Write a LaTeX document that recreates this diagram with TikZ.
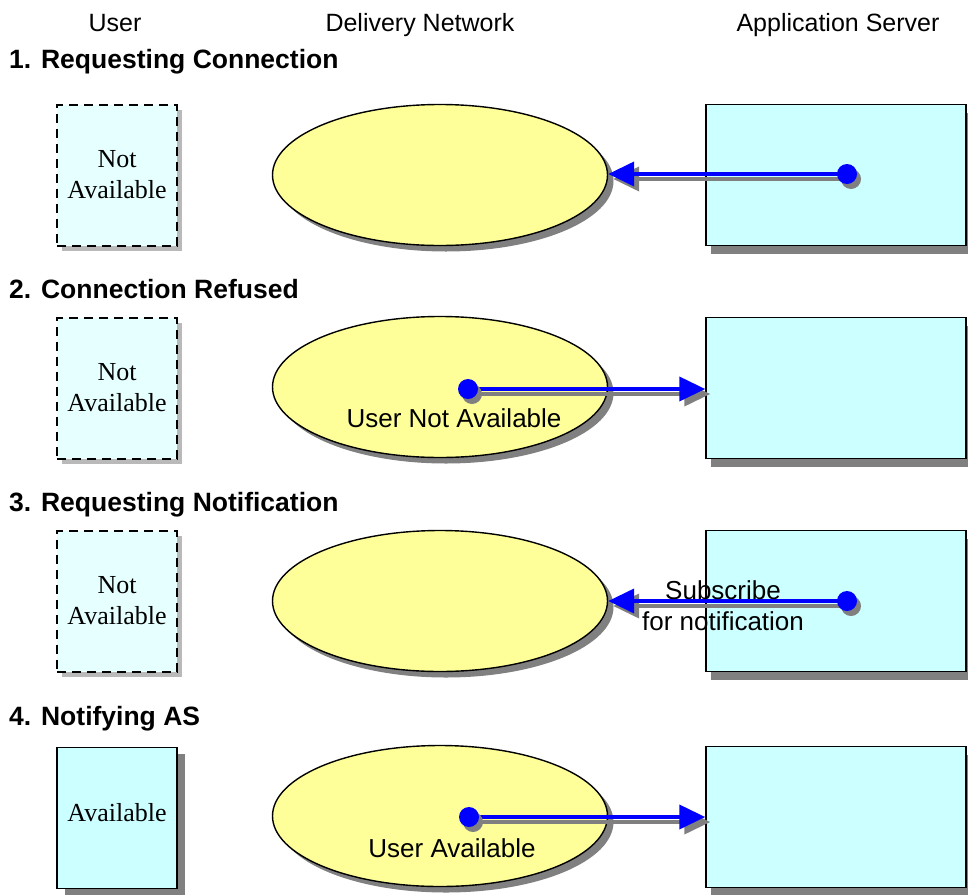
\documentclass[tikz,border=0pt]{standalone}
\usepackage{fontspec}
\setmainfont{Liberation Serif}
\setsansfont{Liberation Sans}
\usetikzlibrary{calc}
\usetikzlibrary{positioning}
\usetikzlibrary{arrows.meta}
\usetikzlibrary{shapes.geometric}
\usetikzlibrary{shadows}
\definecolor{userfill}{RGB}{204,255,255}
\definecolor{awayfill}{RGB}{230,255,255}
\definecolor{netfill}{RGB}{255,255,153}
\definecolor{shade}{RGB}{128,128,128}

\begin{document}
\begin{tikzpicture}[x=1pt, y=-1pt, font=\sffamily\fontsize{26}{31}\selectfont]
	\tikzstyle{colhead}=[inner sep=0pt, font=\sffamily\fontsize{25}{30}\selectfont]
	\tikzstyle{stagetitle}=[inner sep=0pt, font=\sffamily\bfseries\fontsize{26.5}{31}\selectfont]
	\tikzstyle{userbox}=[rectangle, draw=black, line width=1.5pt, fill=userfill, minimum width=120pt, minimum height=141pt, inner sep=0pt, align=center, font=\rmfamily\fontsize{26}{31}\selectfont, drop shadow={shadow xshift=8pt, shadow yshift=-6pt, fill=shade, opacity=1}]
	\tikzstyle{awaybox}=[rectangle, draw=black, line width=2pt, dash pattern=on 9pt off 6pt, fill=awayfill, minimum width=120pt, minimum height=141pt, inner sep=0pt, align=center, font=\rmfamily\fontsize{26}{31}\selectfont, drop shadow={shadow xshift=5pt, shadow yshift=-5pt, fill=shade!55, opacity=1}]
	\tikzstyle{netnode}=[ellipse, draw=black, line width=1.4pt, fill=netfill, minimum width=335pt, minimum height=141pt, inner sep=0pt, drop shadow={shadow xshift=6pt, shadow yshift=-6pt, fill=shade, opacity=1}]
	\tikzstyle{srvbox}=[rectangle, draw=black, line width=1.5pt, fill=userfill, minimum width=260pt, minimum height=141pt, inner sep=0pt, drop shadow={shadow xshift=5pt, shadow yshift=-8pt, fill=shade, opacity=1}]
	\tikzstyle{dot}=[circle, fill=blue, minimum size=20pt, inner sep=0pt, drop shadow={shadow xshift=4pt, shadow yshift=-5pt, fill=shade, opacity=1}]
	\tikzstyle{msg}=[draw=blue, line width=4pt, -{Triangle[length=26pt, width=24pt]}]
	\tikzstyle{msgshadow}=[draw=shade, line width=4pt, -{Triangle[length=26pt, width=24pt]}]

	\useasboundingbox (0,0) rectangle (968,894);

	% column headings
	\node[colhead, anchor=base] (hUser) at (115,31) {User};
	\node[colhead, anchor=base] (hNet) at (420,31) {Delivery Network};
	\node[colhead, anchor=base] (hSrv) at (838,31) {Application Server};

	% 1. requesting connection
	\node[stagetitle, anchor=base west] (t1) at (9,68) {1. Requesting Connection};
	\node[awaybox] (usr1) at (117,175) {Not\\Available};
	\node[netnode] (net1) at (440,175) {};
	\node[srvbox] (srv1) at (836,175) {};
	\coordinate (tx1) at (847,174);
	\draw[msgshadow] ([shift={(5,5)}]tx1) -- ([shift={(5,5)}]tx1 -| net1.east);
	\draw[msg] (tx1) -- (tx1 -| net1.east);
	\node[dot] (dot1) at (tx1) {};

	% 2. connection refused
	\node[stagetitle, anchor=base west] (t2) at (9,298) {2. Connection Refused};
	\node[awaybox] (usr2) at (117,388) {Not\\Available};
	\node[netnode] (net2) at (440,387) {};
	\node[srvbox] (srv2) at (836,388) {};
	\coordinate (tx2) at (468,389);
	\draw[msgshadow] ([shift={(5,5)}]tx2) -- ([shift={(5,5)}]tx2 -| srv2.west);
	\draw[msg] (tx2) -- (tx2 -| srv2.west);
	\node[dot] (dot2) at (tx2) {};
	\node[anchor=base] (lbl2) at ($(net2.center)+(14,40)$) {User Not Available};

	% 3. requesting notification
	\node[stagetitle, anchor=base west] (t3) at (9,511) {3. Requesting Notification};
	\node[awaybox] (usr3) at (117,601) {Not\\Available};
	\node[netnode] (net3) at (440,601) {};
	\node[srvbox] (srv3) at (836,601) {};
	\coordinate (tx3) at (847,601);
	\draw[msgshadow] ([shift={(5,5)}]tx3) -- ([shift={(5,5)}]tx3 -| net3.east);
	\draw[msg] (tx3) -- (tx3 -| net3.east);
	\node[dot] (dot3) at (tx3) {};
	\node[align=center, inner sep=0pt] (lbl3) at (723,606) {Subscribe\\for notification};

	% 4. notifying AS
	\node[stagetitle, anchor=base west] (t4) at (9,725) {4. Notifying AS};
	\node[userbox] (usr4) at (117,818) {\raisebox{12pt}{Available}};
	\node[netnode] (net4) at (440,816) {};
	\node[srvbox] (srv4) at (836,817) {};
	\coordinate (tx4) at (469,817);
	\draw[msgshadow] ([shift={(5,5)}]tx4) -- ([shift={(5,5)}]tx4 -| srv4.west);
	\draw[msg] (tx4) -- (tx4 -| srv4.west);
	\node[dot] (dot4) at (tx4) {};
	\node[anchor=base] (lbl4) at ($(net4.center)+(12,41)$) {User Available};
\end{tikzpicture}
\end{document}
